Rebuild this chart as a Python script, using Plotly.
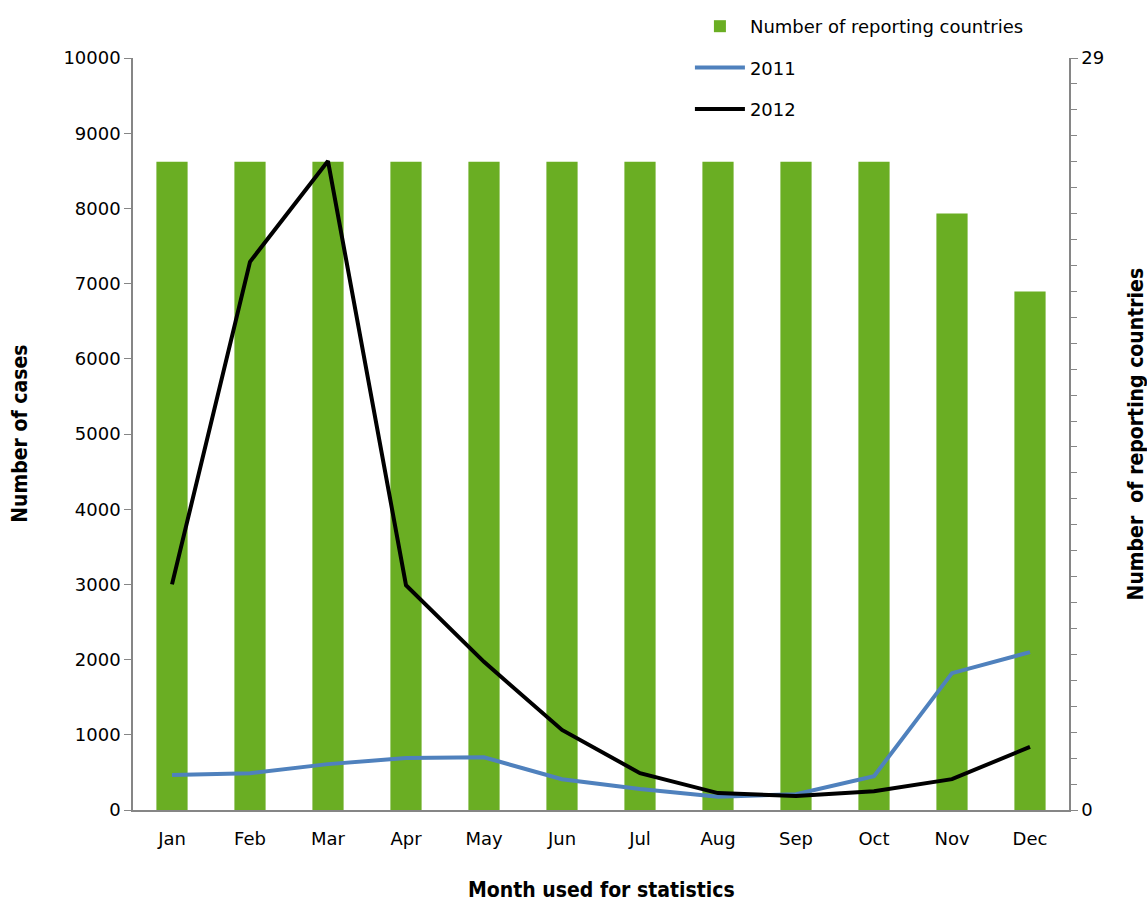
import plotly.graph_objects as go

months = ["Jan", "Feb", "Mar", "Apr", "May", "Jun", "Jul", "Aug", "Sep", "Oct", "Nov", "Dec"]
reporting_countries = [25, 25, 25, 25, 25, 25, 25, 25, 25, 25, 23, 20]
cases_2011 = [465, 490, 610, 690, 700, 410, 280, 175, 210, 450, 1820, 2100]
cases_2012 = [3000, 7290, 8630, 2990, 1970, 1065, 490, 225, 185, 250, 410, 840]

FONT = "Verdana, DejaVu Sans, sans-serif"
TITLE_FONT = "DejaVu Sans Condensed, DejaVu Sans, sans-serif"
AXIS_GRAY = "#868686"

fig = go.Figure()
# bars on the primary (right-side) axis so the lines on the overlaying axis are drawn on top
fig.add_trace(go.Bar(x=months, y=reporting_countries, name="Number of reporting countries",
                     marker=dict(color="#6AAE23", line=dict(width=0)), yaxis="y",
                     legendgroup="a"))
fig.add_trace(go.Scatter(x=months, y=cases_2011, name="2011", mode="lines", yaxis="y2",
                         line=dict(color="#4F81BD", width=4), legendgroup="b"))
fig.add_trace(go.Scatter(x=months, y=cases_2012, name="2012", mode="lines", yaxis="y2",
                         line=dict(color="#000000", width=4), legendgroup="c"))

fig.update_layout(
    width=1147, height=902,
    margin=dict(l=133, r=78, t=58, b=92, autoexpand=False),
    paper_bgcolor="white", plot_bgcolor="white",
    font=dict(family=FONT, size=17, color="#000000"),
    bargap=0.6,
    showlegend=True,
    legend=dict(x=0.595, y=1.0665, xanchor="left", yanchor="top",
                traceorder="grouped", tracegroupgap=15,
                font=dict(size=18), bgcolor="rgba(0,0,0,0)",
                itemwidth=50),
    xaxis=dict(showline=True, linecolor=AXIS_GRAY, linewidth=1.5, ticks="outside",
               ticklen=12, tickcolor="rgba(0,0,0,0)",
               showgrid=False, tickfont=dict(size=18), zeroline=False),
    yaxis=dict(range=[0, 29], side="right", tickvals=[0, 29],
               showline=True, linecolor=AXIS_GRAY, linewidth=1.5,
               ticks="outside", ticklen=7, tickcolor=AXIS_GRAY, showgrid=False,
               zeroline=False, tickfont=dict(size=18),
               minor=dict(ticks="outside", dtick=1, ticklen=6, tickcolor=AXIS_GRAY)),
    yaxis2=dict(range=[0, 10000], dtick=1000, tickformat="d", overlaying="y", side="left",
                showline=True, linecolor=AXIS_GRAY, linewidth=1.5,
                ticks="outside", ticklen=7, tickcolor=AXIS_GRAY,
                showgrid=False, zeroline=False, tickfont=dict(size=18)),
)

fig.add_annotation(text="<b>Number of cases</b>", x=-0.121, y=0.5, xref="paper", yref="paper",
                   xanchor="center", yanchor="middle", textangle=-90, showarrow=False,
                   font=dict(family=TITLE_FONT, size=21))
fig.add_annotation(text="<b>Number  of reporting countries</b>", x=1.072, y=0.5, xref="paper", yref="paper",
                   xanchor="center", yanchor="middle", textangle=-90, showarrow=False,
                   font=dict(family=TITLE_FONT, size=21))
fig.add_annotation(text="<b>Month used for statistics</b>", x=0.5, y=-0.107, xref="paper", yref="paper",
                   xanchor="center", yanchor="middle", showarrow=False,
                   font=dict(family=TITLE_FONT, size=21))

fig.write_html("out.html")
